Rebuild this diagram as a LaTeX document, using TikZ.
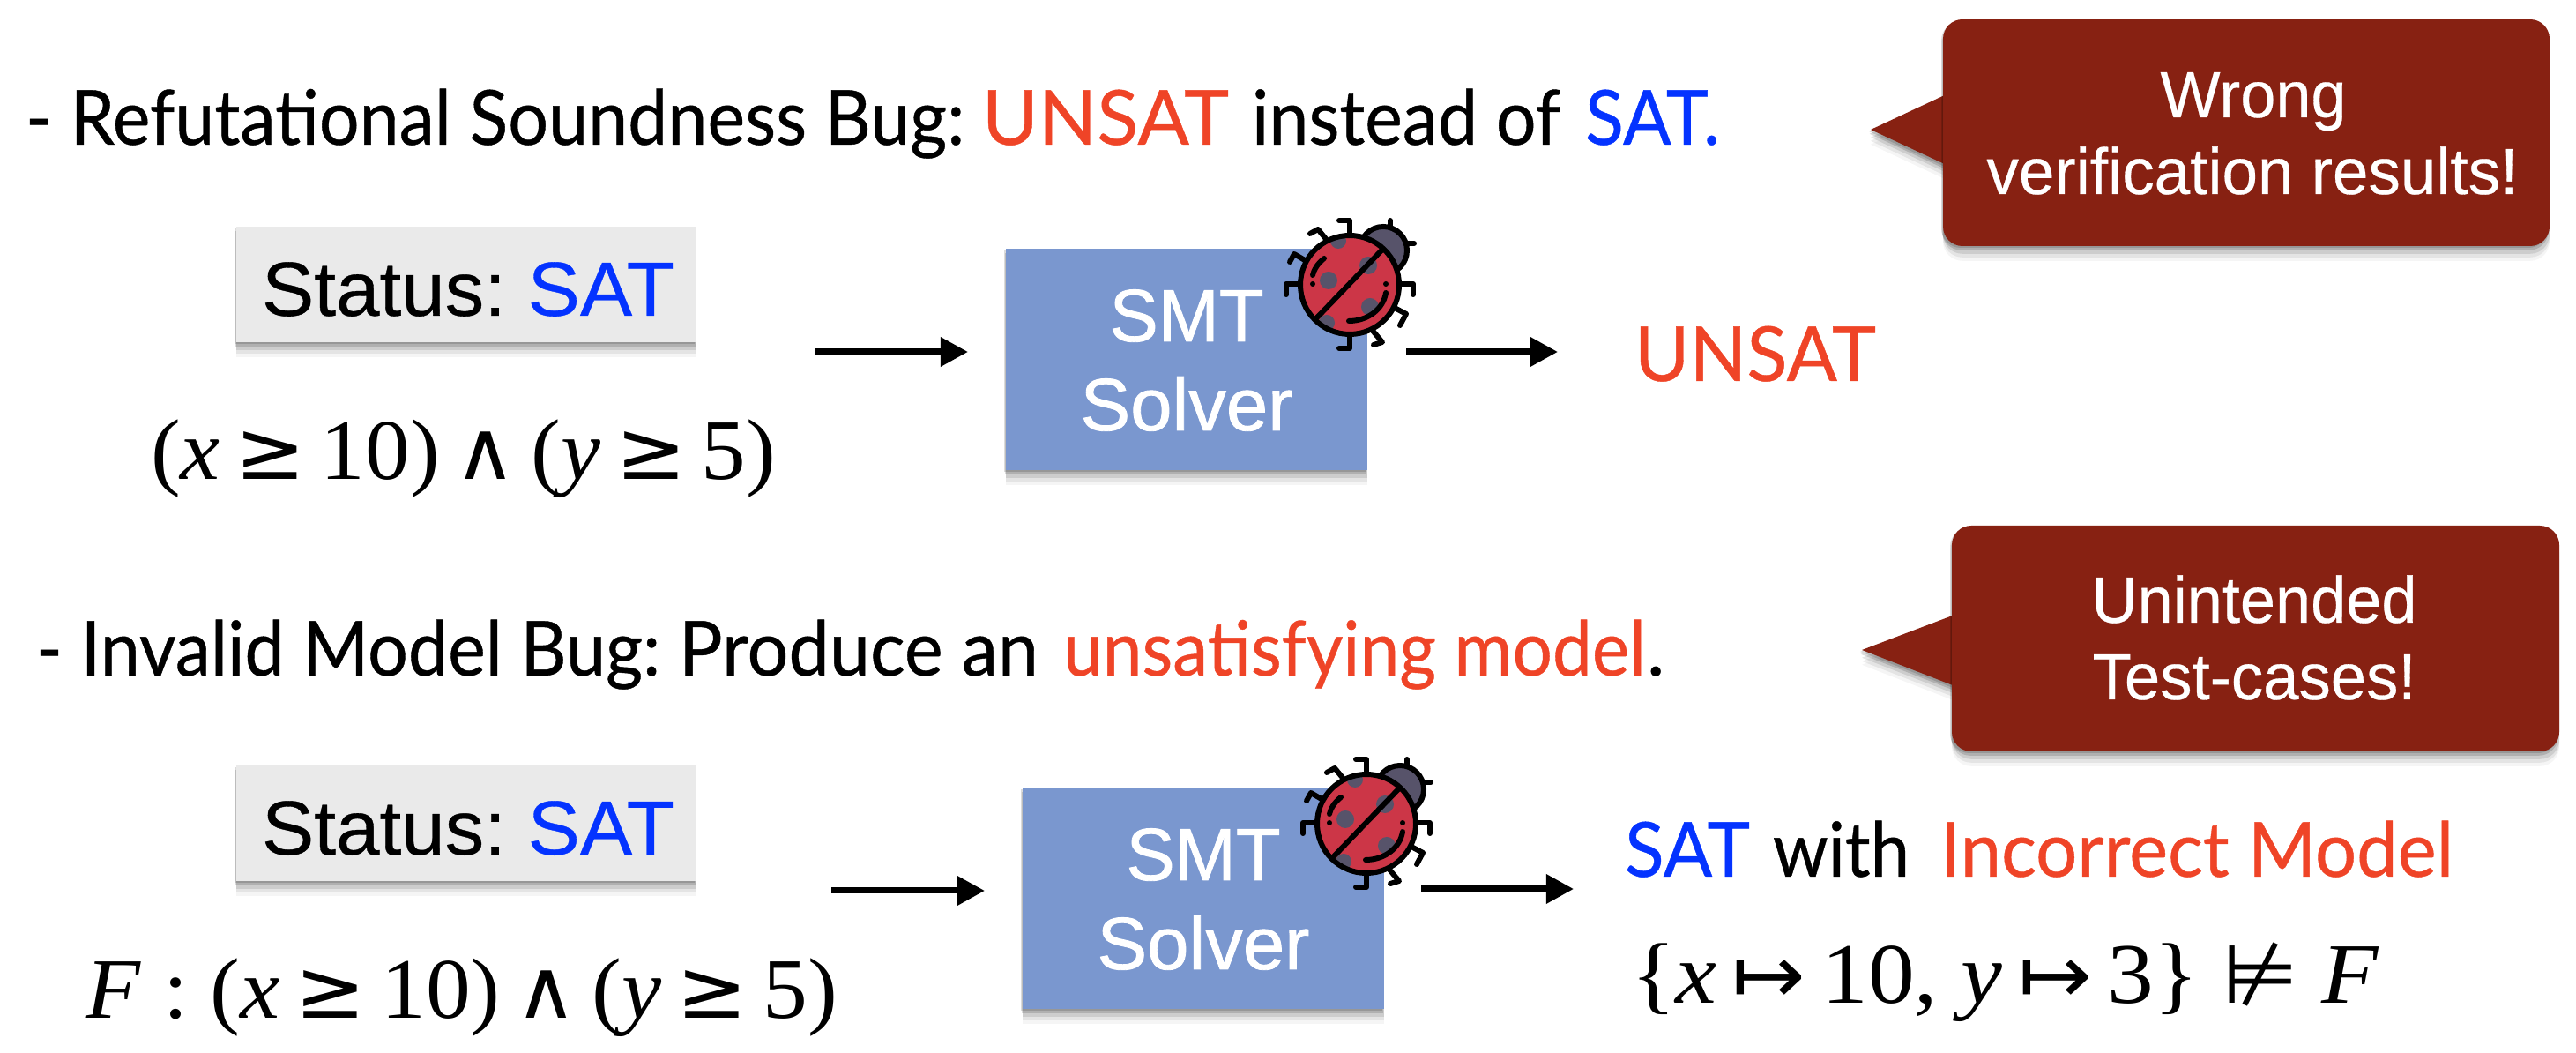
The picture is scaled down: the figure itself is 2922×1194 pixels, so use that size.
\documentclass[tikz,border=0pt]{standalone}
\usepackage{fontspec}
\usepackage{graphicx}
\setmainfont{Liberation Serif}
\newfontfamily\gill[FakeBold=0.5]{Lato}
\newfontfamily\helv[FakeBold=0.4]{Liberation Sans}
\newfontfamily\helvm[FakeBold=1]{Liberation Sans}
\newfontfamily\symf[Scale=0.95]{DejaVu Sans}
\usetikzlibrary{shadows,arrows.meta}
\frenchspacing
\newcommand{\fitw}[2]{\resizebox{\dimexpr 0.25pt*#1\relax}{\height}{#2}}
\definecolor{redt}{HTML}{EF4427}
\definecolor{bluet}{HTML}{0433FF}
\definecolor{boxblue}{HTML}{7A97CF}
\definecolor{callout}{HTML}{872112}
\definecolor{stat}{HTML}{EAEAEA}
\definecolor{bugred}{HTML}{CC3647}
\definecolor{buggray}{HTML}{57536A}
\tikzset{
  x=0.25pt,y=-0.25pt,
  softshadow/.style={
    general shadow={shadow xshift=0pt,shadow yshift=-4.2pt,fill=black,fill opacity=.04},
    general shadow={shadow xshift=0pt,shadow yshift=-3.2pt,fill=black,fill opacity=.07},
    general shadow={shadow xshift=0pt,shadow yshift=-2.2pt,fill=black,fill opacity=.10},
    general shadow={shadow xshift=-0.3pt,shadow yshift=-1.2pt,fill=black,fill opacity=.14},
    general shadow={shadow xshift=-0.5pt,shadow yshift=-0.5pt,fill=black,fill opacity=.14}},
  txt/.style={anchor=base west,inner sep=0pt,outer sep=0pt},
  head/.style={txt,font=\gill\fontsize{21.5}{26}\selectfont},
  hv/.style={anchor=base,inner sep=0pt,font=\helv\fontsize{#1}{#1}\selectfont},
  hvm/.style={anchor=base,inner sep=0pt,font=\helvm\fontsize{#1}{#1}\selectfont},
  mth/.style={txt,font=\fontsize{24.4}{28}\selectfont},
  statbox/.style={fill=stat,softshadow,inner sep=0pt},
  smtbox/.style={fill=boxblue,softshadow,inner sep=0pt},
  flow/.style={line width=1.75pt,-{Triangle[length=7.8pt,width=8pt]}},
  leg/.style={line width=1.5pt,line cap=round,line join=round},
  bug/.pic={
    \foreach \a/\b/\c/\d/\e/\f in {0/-57/0/-73/-12/-73,-27/-52/-36/-63/-45/-58,-51/-28/-63/-35/-68/-26,-57/-1/-72/-1/-72/11,0/57/0/72/-12/72,26/52/37/65/27/68,49/25/64/33/57/46,57/-1/72/-1/72/11}
      {\draw[leg] (\a,\b) -- (\c,\d) -- (\e,\f);}
    \draw[leg] (46,-65) -- (46,-73);
    \draw[leg] (64,-47) -- (73,-47);
    \draw[leg,fill=buggray] (38,-39) circle[radius=27];
    \fill[bugred] (0,0) circle[radius=56];
    \begin{scope}
      \clip (0,0) circle[radius=56];
      \foreach \a/\b/\r in {-24/-5/10,21/-22/10,23/25/10,-13/-50/9,-26/43/9}
        \fill[buggray] (\a,\b) circle[radius=\r];
    \end{scope}
    \draw[leg] (0,0) circle[radius=56];
    \draw[leg] (37,-40) -- (-37,37);
    \draw[leg] (-29,-30) .. controls (-37,-24) and (-41,-16) .. (-42,-11);
    \fill (-42,-1) circle[radius=3];
    \fill (41,-1) circle[radius=3];
    \draw[leg] (41,9) .. controls (38,28) and (20,41) .. (-1,41);
  }
}
\begin{document}
\begin{tikzpicture}
\useasboundingbox (0,0) rectangle (2922,1194);
% callouts
\fill[callout,softshadow] (2122,147) -- (2210,106) -- (2210,188) -- cycle;
\fill[callout,softshadow,rounded corners=5.5pt] (2204,22) rectangle (2892,279);
\fill[callout,softshadow] (2112,737) -- (2220,696) -- (2220,779) -- cycle;
\fill[callout,softshadow,rounded corners=5.5pt] (2214,596) rectangle (2903,852);
\node[hv=18.5,text=white] (w1) at (2556,133) {\fitw{211}{Wrong}};
\node[hv=18.5,text=white] (w2) at (2555,220) {\fitw{603}{verification results!}};
\node[hv=18.5,text=white] (u1) at (2557,706) {\fitw{369}{Unintended}};
\node[hv=18.5,text=white] (u2) at (2557,793) {\fitw{367}{Test-cases!}};
% headings
\node[head] (h1a) at (29,164) {\fitw{1065}{- Refutational Soundness Bug:}};
\node[head,text=redt] (h1b) at (1114,164) {\fitw{280}{UNSAT}};
\node[head] (h1c) at (1420,164) {\fitw{350}{instead of}};
\node[head,text=bluet] (h1d) at (1798,164) {\fitw{153}{SAT.}};
\node[head] (h2a) at (41,766) {\fitw{708}{- Invalid Model Bug:}};
\node[head] (h2b) at (770,766) {\fitw{408}{Produce an}};
\node[head,text=redt] (h2c) at (1206,766) {\fitw{661}{unsatisfying model}};
\node[head] (h2d) at (1868,766) {.};
% status boxes
\node[statbox,minimum width=522*0.25pt,minimum height=131*0.25pt] (s1) at (529,323) {};
\node[statbox,minimum width=522*0.25pt,minimum height=131*0.25pt] (s2) at (529,934) {};
\node[hv=21.75] (s1t) at (531,358) {\fitw{468}{Status: \textcolor{bluet}{SAT}}};
\node[hv=21.75] (s2t) at (531,969) {\fitw{468}{Status: \textcolor{bluet}{SAT}}};
% SMT
\node[smtbox,minimum width=410*0.25pt,minimum height=251*0.25pt] (b1) at (1346,407.5) {};
\node[smtbox,minimum width=410*0.25pt,minimum height=251*0.25pt] (b2) at (1365,1018.5) {};
\node[hvm=21,text=white] (b1a) at (1346,387) {\fitw{175}{SMT}};
\node[hvm=21,text=white] (b1b) at (1346,488) {\fitw{241}{Solver}};
\node[hvm=21,text=white] (b2a) at (1365,998) {\fitw{175}{SMT}};
\node[hvm=21,text=white] (b2b) at (1365,1099) {\fitw{241}{Solver}};
% bugs
\pic at (1531,323) {bug};
\pic at (1550,934) {bug};
% formulas
\node[mth] (f1) at (171,544) {\fitw{709}{(\textit{x}\,{\symf ≥}\,10)\,{\symf ∧}\,(\textit{y}\,{\symf ≥}\,5)}};
\node[mth] (f2) at (97,1155) {\fitw{853}{\textit{F} : (\textit{x}\,{\symf ≥}\,10)\,{\symf ∧}\,(\textit{y}\,{\symf ≥}\,5)}};
\node[mth] (f3) at (1850,1138) {\fitw{849}{\{\textit{x}\,{\symf ↦}\,10, \textit{y}\,{\symf ↦}\,3\} {\symf ⊭} \textit{F}}};
% results
\node[head,text=redt] (r1) at (1854,432) {\fitw{274}{UNSAT}};
\node[head,text=bluet] (r2a) at (1843,994) {\fitw{142}{SAT}};
\node[head] (r2b) at (2011,994) {\fitw{155}{with}};
\node[head,text=redt] (r2c) at (2201,994) {\fitw{582}{Incorrect Model}};
% arrows
\coordinate (a1s) at (924,399); \coordinate (a1e) at (1098,399);
\coordinate (a2s) at (1595,399); \coordinate (a2e) at (1767,399);
\coordinate (a3s) at (943,1010); \coordinate (a3e) at (1117,1010);
\coordinate (a4s) at (1612,1008); \coordinate (a4e) at (1785,1008);
\draw[flow] (a1s) -- (a1e);
\draw[flow] (a2s) -- (a2e);
\draw[flow] (a3s) -- (a3e);
\draw[flow] (a4s) -- (a4e);
\end{tikzpicture}
\end{document}
